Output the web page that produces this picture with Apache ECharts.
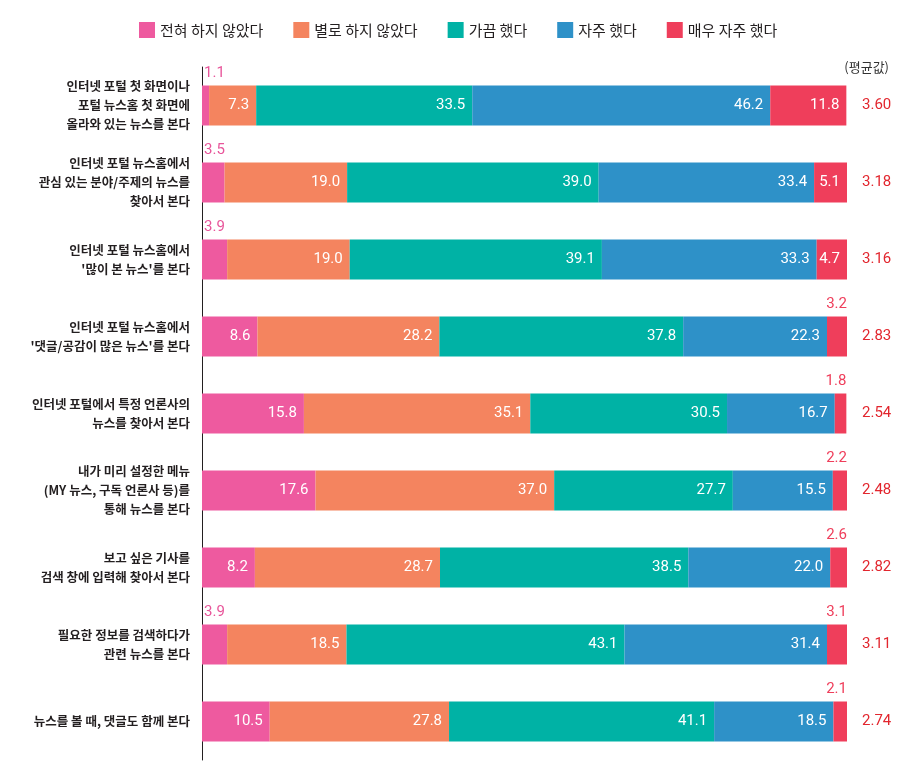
<!DOCTYPE html>
<html>
<head>
<meta charset="utf-8">
<script src="https://cdn.jsdelivr.net/npm/echarts@6/dist/echarts.min.js"></script>
<style>
  html, body { margin: 0; padding: 0; background: #fff; }
  #chart { width: 918px; height: 776px; }
</style>
</head>
<body>
<div id="chart"></div>
<script>
var categories = [
    "인터넷 포털 첫 화면이나\n포털 뉴스홈 첫 화면에\n올라와 있는 뉴스를 본다",
    "인터넷 포털 뉴스홈에서\n관심 있는 분야/주제의 뉴스를\n찾아서 본다",
    "인터넷 포털 뉴스홈에서\n'많이 본 뉴스'를 본다",
    "인터넷 포털 뉴스홈에서\n'댓글/공감이 많은 뉴스'를 본다",
    "인터넷 포털에서 특정 언론사의\n뉴스를 찾아서 본다",
    "내가 미리 설정한 메뉴\n(MY 뉴스, 구독 언론사 등)를\n통해 뉴스를 본다",
    "보고 싶은 기사를\n검색 창에 입력해 찾아서 본다",
    "필요한 정보를 검색하다가\n관련 뉴스를 본다",
    "뉴스를 볼 때, 댓글도 함께 본다"
];
var seriesNames = ["전혀 하지 않았다", "별로 하지 않았다", "가끔 했다", "자주 했다", "매우 자주 했다"];
var never     = [1.1, 3.5, 3.9, 8.6, 15.8, 17.6, 8.2, 3.9, 10.5];
var rarely    = [7.3, 19.0, 19.0, 28.2, 35.1, 37.0, 28.7, 18.5, 27.8];
var sometimes = [33.5, 39.0, 39.1, 37.8, 30.5, 27.7, 38.5, 43.1, 41.1];
var often     = [46.2, 33.4, 33.3, 22.3, 16.7, 15.5, 22.0, 31.4, 18.5];
var veryOften = [11.8, 5.1, 4.7, 3.2, 1.8, 2.2, 2.6, 3.1, 2.1];
var averages  = ["3.60", "3.18", "3.16", "2.83", "2.54", "2.48", "2.82", "3.11", "2.74"];

var colors = ["#ee5a9f", "#f4845f", "#00b2a5", "#2e91c8", "#ef3e5b"];
var numFont = "Roboto, 'Noto Sans', sans-serif";
var krFont = "'Noto Sans CJK KR', sans-serif";

// small values go above the bar: first series at the left end, last series at the right end
function buildData(values, idx) {
    return values.map(function (v) {
        var item = {value: v};
        if (v < 4 && idx === 0) {
            item.label = {position: [2, -5], align: "left", verticalAlign: "bottom", color: "#e8559a", padding: 0};
        } else if (v < 4 && idx === 4) {
            item.label = {position: ["100%", -5], align: "right", verticalAlign: "bottom", color: "#ef3e5b", padding: 0};
        }
        return item;
    });
}

var allValues = [never, rarely, sometimes, often, veryOften];

var chart = echarts.init(document.getElementById("chart"));
var option = {
    animation: false,
    color: colors,
    title: {
        text: "(평균값)",
        right: 24,
        top: 56,
        textStyle: {fontSize: 13, fontWeight: "normal", color: "#333", fontFamily: krFont}
    },
    legend: {
        top: 17,
        left: 134,
        itemWidth: 16,
        itemHeight: 16,
        itemGap: 30,
        icon: "rect",
        textStyle: {fontSize: 15, color: "#231f20", fontFamily: krFont},
        data: seriesNames
    },
    grid: {left: 202, right: 71, top: 67, bottom: 16},
    xAxis: {
        type: "value",
        min: 0,
        max: 100,
        show: false
    },
    yAxis: [{
        type: "category",
        inverse: true,
        data: categories,
        axisTick: {show: false},
        axisLine: {show: true, lineStyle: {color: "#231f20", width: 1}},
        axisLabel: {
            margin: 12,
            fontSize: 12.5,
            fontWeight: "bold",
            lineHeight: 19,
            color: "#231f20",
            align: "right",
            fontFamily: krFont
        }
    }, {
        type: "category",
        inverse: true,
        position: "right",
        data: averages,
        axisTick: {show: false},
        axisLine: {show: false},
        axisLabel: {margin: 15, fontSize: 15, color: "#e2262e", fontFamily: numFont}
    }],
    series: seriesNames.map(function (name, i) {
        return {
            name: name,
            type: "bar",
            stack: "total",
            barWidth: 40,
            data: buildData(allValues[i], i),
            label: {
                show: true,
                position: "insideRight",
                color: "#fff",
                fontSize: 15,
                fontFamily: numFont,
                padding: [0, 2, 0, 0],
                formatter: function (p) { return p.value.toFixed(1); }
            }
        };
    })
};
chart.setOption(option, !0);
</script>
</body>
</html>
